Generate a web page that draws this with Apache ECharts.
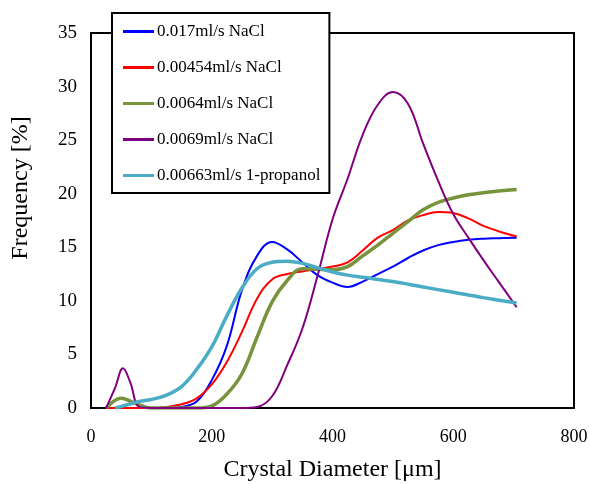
<!DOCTYPE html>
<html><head><meta charset="utf-8">
<script src="https://cdn.jsdelivr.net/npm/echarts@6/dist/echarts.min.js"></script>
<style>html,body{margin:0;padding:0;background:#fff}#c{width:590px;height:484px}</style>
</head><body><div id="c"></div>
<script>
var seriesNames = ['0.017ml/s NaCl','0.00454ml/s NaCl','0.0064ml/s NaCl','0.0069ml/s NaCl','0.00663ml/s 1-propanol'];
var xTitle = 'Crystal Diameter [\u03bcm]';
var yTitle = 'Frequency [%]';

var blueX = [75,100,125,150,175,200,225,250,275,300,325,350,375,400,425,450,475,500,525,550,575,600,625,650,675,705];
var blueY = [0,0,0,0.1,0.6,2.6,5.8,11.0,14.2,15.5,14.8,13.6,12.4,11.7,11.3,11.8,12.5,13.2,14.0,14.7,15.2,15.5,15.7,15.8,15.85,15.9];

var redX = [25,50,75,100,125,150,175,200,225,250,275,300,325,350,375,400,425,450,475,500,525,550,575,600,625,650,675,705];
var redY = [0,0,0,0,0.1,0.35,0.9,2.2,4.3,7.1,10.2,12.0,12.5,12.75,12.95,13.2,13.6,14.7,15.9,16.6,17.5,18.0,18.3,18.2,17.7,17.0,16.5,16.0];

var greenX = [25,50,75,100,125,150,175,200,225,250,275,300,325,350,375,400,425,450,475,500,525,550,575,600,625,650,675,705];
var greenY = [0,0.9,0.4,0,0,0,0,0.2,1.3,3.2,6.6,9.9,11.9,13.0,12.95,12.9,13.2,14.2,15.2,16.3,17.4,18.5,19.2,19.6,19.9,20.1,20.25,20.4];

var purpleX = [25,40,53,65,80,100,150,200,250,275,300,325,350,375,400,425,450,475,500,525,550,575,600,625,650,675,705];
var purpleY = [0,1.9,3.7,2.4,0.1,0,0,0,0,0.1,1.1,4.0,7.4,12.3,17.6,21.4,25.5,28.3,29.5,28.4,24.7,21.2,18.1,15.9,13.8,11.8,9.4];

var cyanX = [40,60,80,100,125,150,175,200,225,250,275,300,325,350,375,400,425,450,475,500,550,600,650,705];
var cyanY = [0,0.3,0.6,0.8,1.2,2.0,3.6,5.7,8.6,11.2,13.0,13.6,13.7,13.5,13.1,12.7,12.4,12.2,12.0,11.8,11.3,10.8,10.3,9.8];

var colors = ['#0000FF','#FF0000','#77933C','#7F007F','#4BACC6'];
var widths = [2,2,3.5,2,3.5];
var xs = [blueX,redX,greenX,purpleX,cyanX];
var ys = [blueY,redY,greenY,purpleY,cyanY];

function pairs(a,b){var r=[];for(var i=0;i<a.length;i++)r.push([a[i],b[i]]);return r;}

var font = '"Liberation Serif","Times New Roman",serif';
var series = seriesNames.map(function(n,i){
  return {name:n,type:'line',smooth:0.4,showSymbol:false,symbol:'none',
    data:pairs(xs[i],ys[i]),
    lineStyle:{color:colors[i],width:widths[i]},itemStyle:{color:colors[i]}};
});

var chart = echarts.init(document.getElementById('c'),null,{renderer:'canvas'});
chart.setOption({
  animation:false,
  backgroundColor:'#fff',
  grid:{left:91,right:16,top:33,bottom:76,show:true,borderColor:'#000',borderWidth:2,containLabel:false,outerBoundsMode:'none'},
  legend:{
    orient:'vertical',left:112,top:13,
    data:seriesNames.map(function(n,i){return {name:n,icon:'rect',itemStyle:{color:colors[i]}};}),
    itemWidth:31,itemHeight:3,
    itemGap:19,
    backgroundColor:'#fff',borderColor:'#000',borderWidth:2,
    padding:[10,9,9,11],
    textStyle:{fontFamily:font,fontSize:17,color:'#000',lineHeight:17,padding:[0,0,0,-2]},
    selectedMode:false
  },
  graphic:[{type:'text',x:21,y:188,rotation:Math.PI/2,
    style:{text:yTitle,font:'24px "Liberation Serif","Times New Roman",serif',fill:'#000',align:'center',verticalAlign:'middle'}}],
  xAxis:{type:'value',min:0,max:800,interval:200,
    axisLine:{show:true,lineStyle:{color:'#000',width:2}},
    axisTick:{show:false},splitLine:{show:false},
    axisLabel:{fontFamily:font,fontSize:18,color:'#000',margin:20},
    name:xTitle,nameLocation:'middle',nameGap:50,
    nameTextStyle:{fontFamily:font,fontSize:24,color:'#000'}},
  yAxis:{type:'value',min:0,max:35,interval:5,
    axisLine:{show:true,lineStyle:{color:'#000',width:2}},
    axisTick:{show:false},splitLine:{show:false},
    axisLabel:{fontFamily:font,fontSize:19,color:'#000',margin:14}},
  series:series
});
</script></body></html>
